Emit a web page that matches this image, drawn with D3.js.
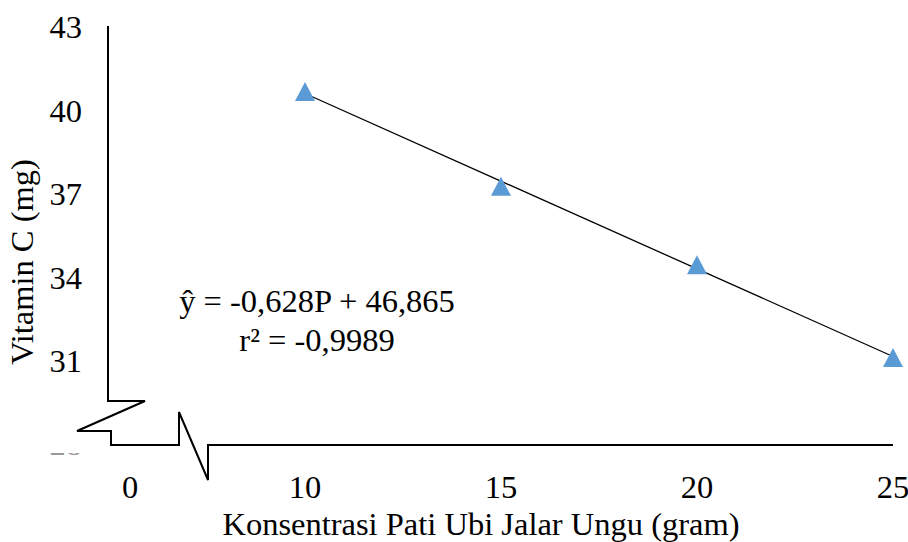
<!DOCTYPE html>
<meta charset="utf-8">
<style>
    html, body { margin: 0; padding: 0; background: #fff; }
    text { font-family: "Liberation Serif", "Times New Roman", serif; fill: #000; }
</style>
<body>
<svg id="chart" width="908" height="542"></svg>
<script src="https://cdn.jsdelivr.net/npm/d3@7"></script>
<script>
  // data
  var konsentrasi = [10, 15, 20, 25];
  var vitaminC = [40.68, 37.27, 34.45, 31.11];
  var yTicks = [28, 31, 34, 37, 40, 43];
  var xTicks = [0, 10, 15, 20, 25];
  var eqLines = ["ŷ = -0,628P + 46,865", "r² = -0,9989"];

  var FONT = 32.5;
  var svg = d3.select("#chart");

  // broken x axis: 0 sits left of the break, 10..25 linear
  var x = d3.scaleLinear().domain([0, 10, 25]).range([130, 305, 893]);
  var y = d3.scaleLinear().domain([28, 43]).range([444, 27]);
  var axisX = 108;

  // y tick labels (28 is mostly hidden behind the break)
  svg.append("defs").append("clipPath").attr("id", "cut28")
    .append("rect").attr("x", 0).attr("y", 453).attr("width", 120).attr("height", 30);

  svg.selectAll(".ylab").data(yTicks).enter().append("text")
    .attr("class", "ylab")
    .attr("x", 82)
    .attr("y", function (d) { return y(d); })
    .attr("dy", "0.35em")
    .attr("text-anchor", "end")
    .attr("font-size", FONT)
    .attr("clip-path", function (d) { return d === 28 ? "url(#cut28)" : null; })
    .style("fill", function (d) { return d === 28 ? "#999" : "#000"; })
    .text(function (d) { return d; });

  // x tick labels
  svg.selectAll(".xlab").data(xTicks).enter().append("text")
    .attr("class", "xlab")
    .attr("x", function (d) { return x(d); })
    .attr("y", 487)
    .attr("dy", "0.35em")
    .attr("text-anchor", "middle")
    .attr("font-size", FONT)
    .text(function (d) { return d; });

  // axes with break marks
  var yb = 401;
  var p = d3.path();
  p.moveTo(axisX, y(43) - 1);
  p.lineTo(axisX, yb);
  p.lineTo(145, yb);
  p.lineTo(77, 431);
  p.lineTo(111, 431);
  p.lineTo(111, y(28) + 1);
  p.lineTo(179, y(28) + 1);
  p.lineTo(179, 412);
  p.lineTo(208, 480);
  p.lineTo(208, y(28) + 1);
  p.lineTo(x(25), y(28) + 1);
  svg.append("path")
    .attr("d", p.toString())
    .attr("fill", "none")
    .attr("stroke", "#000")
    .attr("stroke-width", 2)
    .attr("stroke-linejoin", "miter");

  // linear trend from the data
  var reg = (function () {
    var n = konsentrasi.length;
    var mx = d3.mean(konsentrasi), my = d3.mean(vitaminC);
    var sxy = 0, sxx = 0;
    for (var i = 0; i < n; i++) {
      sxy += (konsentrasi[i] - mx) * (vitaminC[i] - my);
      sxx += (konsentrasi[i] - mx) * (konsentrasi[i] - mx);
    }
    var b = sxy / sxx;
    return { b: b, a: my - b * mx };
  })();

  var trendX = d3.extent(konsentrasi);
  svg.append("line")
    .attr("x1", x(trendX[0])).attr("y1", y(reg.a + reg.b * trendX[0]))
    .attr("x2", x(trendX[1])).attr("y2", y(reg.a + reg.b * trendX[1]))
    .attr("stroke", "#000")
    .attr("stroke-width", 1.3);

  // triangle markers
  var tw = 20, th = 19;
  svg.selectAll(".pt").data(konsentrasi).enter().append("path")
    .attr("class", "pt")
    .attr("transform", function (d, i) { return "translate(" + x(d) + "," + y(vitaminC[i]) + ")"; })
    .attr("d", "M0," + (-th / 2) + "L" + (tw / 2) + "," + (th / 2) + "L" + (-tw / 2) + "," + (th / 2) + "Z")
    .attr("fill", "#5B9BD5");

  // equation
  svg.selectAll(".eq").data(eqLines).enter().append("text")
    .attr("class", "eq")
    .attr("x", 317)
    .attr("y", function (d, i) { return 301 + i * 39; })
    .attr("dy", "0.35em")
    .attr("text-anchor", "middle")
    .attr("font-size", FONT)
    .text(function (d) { return d; });

  // axis titles
  svg.append("text")
    .attr("x", 481).attr("y", 524)
    .attr("dy", "0.35em")
    .attr("text-anchor", "middle")
    .attr("font-size", FONT)
    .text("Konsentrasi Pati Ubi Jalar Ungu (gram)");

  svg.append("text")
    .attr("transform", "translate(22,262) rotate(-90)")
    .attr("dy", "0.35em")
    .attr("text-anchor", "middle")
    .attr("font-size", FONT)
    .text("Vitamin C (mg)");
</script>
</body>
